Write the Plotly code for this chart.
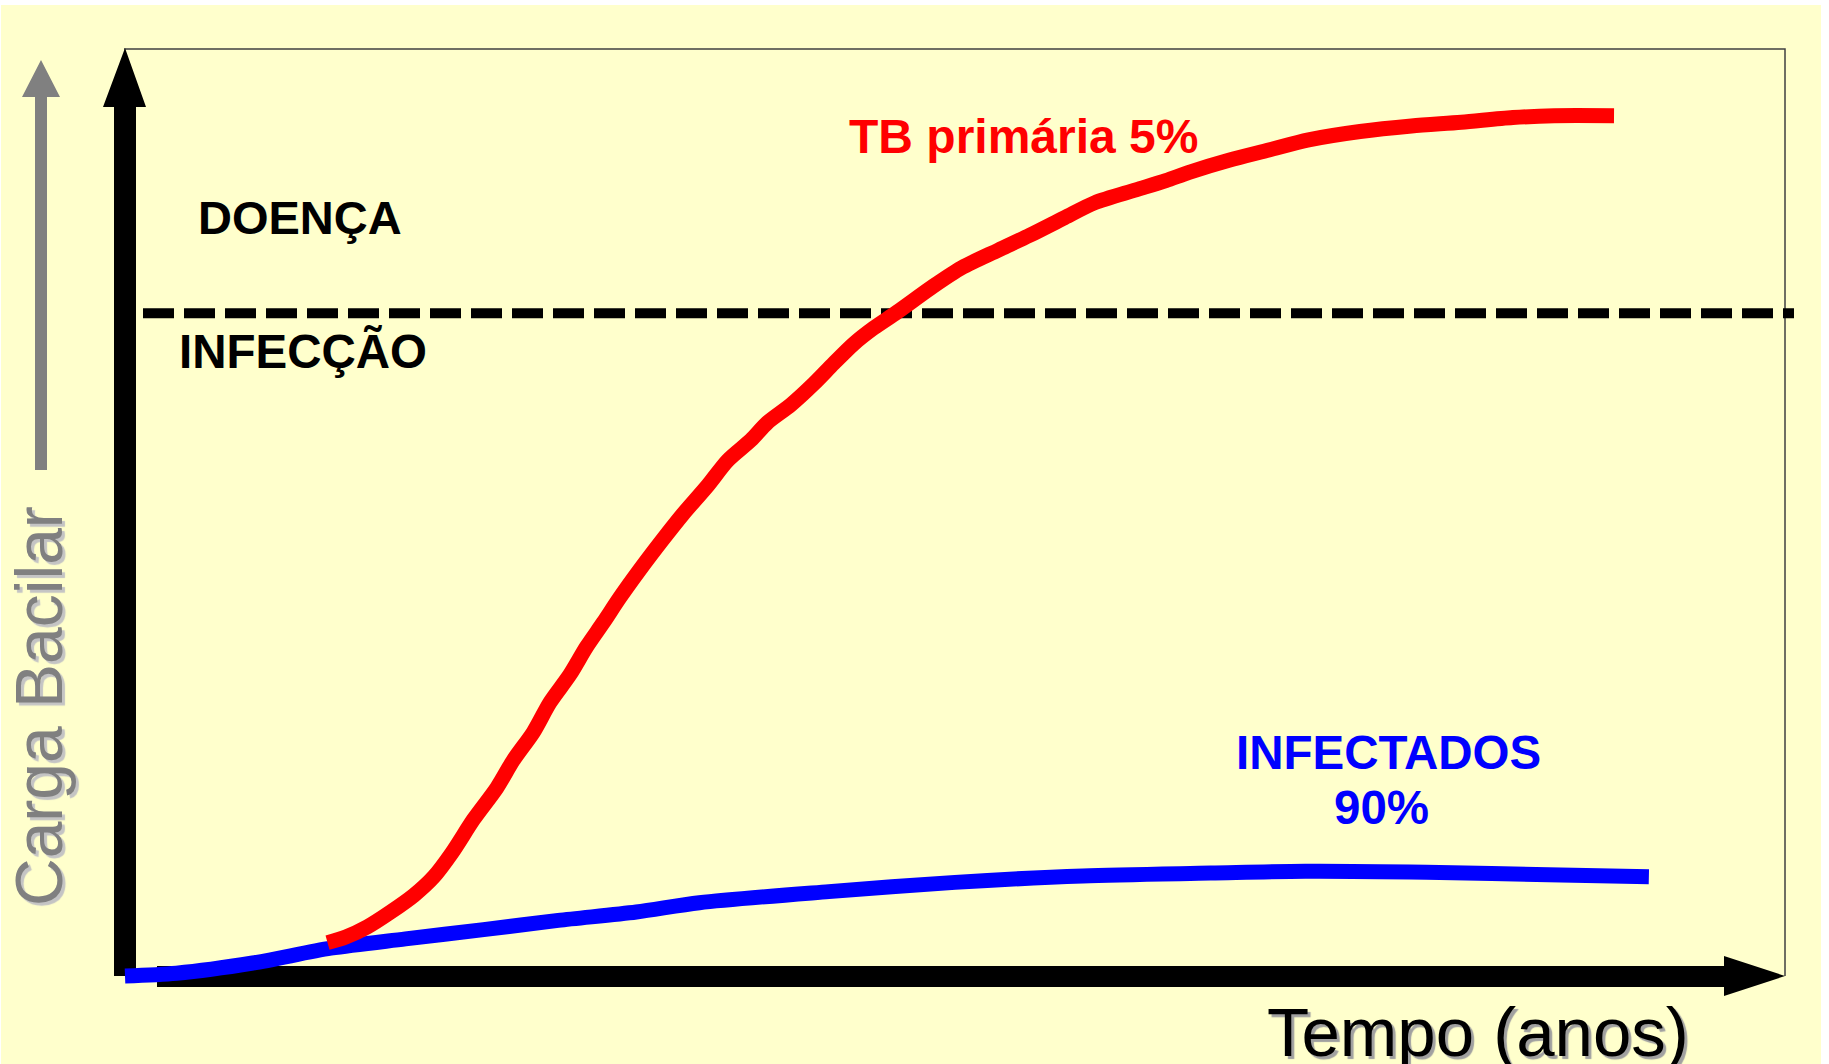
import plotly.graph_objects as go

W, H = 1829, 1064

# Frame units: the load axis sits at tempo = 0 and the frame's right edge at 100;
# the time axis sits at carga = 0 and the frame's top edge at 100.
X_ORIGIN_PX, X_PX_PER_UNIT = 125, 16.6
Y_ORIGIN_PX, Y_PX_PER_UNIT = 976, 9.27


def ux(px):
    return (px - X_ORIGIN_PX) / X_PX_PER_UNIT


def uy(py):
    return (Y_ORIGIN_PX - py) / Y_PX_PER_UNIT


# Primary TB: bacillary load over time
tempo_tb = [12.2, 13.3, 14.6, 16.0, 17.4, 18.6, 19.7, 21.0, 22.4, 23.4, 24.6, 25.6,
            26.8, 27.8, 28.8, 29.8, 31.0, 32.4, 33.6, 35.1, 36.3, 37.7, 38.7, 40.1,
            41.5, 42.7, 43.9, 45.1, 46.5, 48.6, 50.4, 52.6, 54.5, 56.6, 58.4, 60.9,
            62.7, 64.1, 66.5, 68.9, 71.3, 74.4, 77.5, 80.5, 83.6, 86.1, 89.7]
carga_tb = [3.6, 4.2, 5.3, 6.9, 8.7, 10.7, 13.3, 16.9, 20.3, 23.3, 26.3, 29.5,
            32.5, 35.5, 38.1, 40.8, 43.8, 47.1, 49.8, 52.9, 55.6, 57.8, 59.7, 61.6,
            63.9, 66.1, 68.2, 69.9, 71.6, 74.3, 76.4, 78.3, 79.9, 81.8, 83.4, 84.8,
            85.8, 86.7, 88.0, 89.1, 90.2, 91.1, 91.7, 92.1, 92.6, 92.8, 92.8]

# Infected without disease
tempo_inf = [0.0, 3.1, 7.7, 12.4, 16.9, 21.6, 26.1, 30.8, 34.6, 42.4, 50.0,
             57.7, 65.4, 71.1, 78.4, 86.5, 91.8]
carga_inf = [0.0, 0.3, 1.4, 3.0, 4.0, 5.0, 6.0, 6.9, 7.9, 9.1, 10.1,
             10.8, 11.1, 11.3, 11.2, 10.9, 10.7]

# Disease threshold (DOENÇA above / INFECÇÃO below)
limiar_doenca = 71.5

FONT = "Liberation Sans, Arial, sans-serif"


def poly(points):
    pts = [f"{ux(px):.4f},{uy(py):.4f}" for px, py in points]
    return "M " + " L ".join(pts) + " Z"


fig = go.Figure()

fig.add_trace(go.Scatter(
    x=[ux(143), ux(1794)], y=[limiar_doenca, limiar_doenca], mode="lines",
    line=dict(color="black", width=10, dash="31px,10px"), hoverinfo="skip"))

fig.add_trace(go.Scatter(
    x=tempo_inf, y=carga_inf, mode="lines",
    line=dict(color="#0000FF", width=15, shape="spline", smoothing=0.8, simplify=False),
    hoverinfo="skip"))

fig.add_trace(go.Scatter(
    x=tempo_tb, y=carga_tb, mode="lines",
    line=dict(color="#FF0000", width=15, shape="spline", smoothing=0.8, simplify=False),
    hoverinfo="skip"))

shapes = [
    # slide background
    dict(type="rect", xref="paper", yref="paper", x0=1 / W, x1=1821 / W,
         y0=0, y1=(H - 5) / H, fillcolor="#FFFFCC", line=dict(width=0), layer="below"),
    # thin frame (top and right)
    dict(type="path", xref="x", yref="y",
         path=f"M {ux(124)},{uy(49)} L {ux(1785)},{uy(49)} L {ux(1785)},{uy(976)}",
         line=dict(color="#404040", width=1.5), layer="below"),
    # grey arrow beside the load label
    dict(type="path", xref="x", yref="y",
         path=poly([(35, 470), (35, 97), (22, 97), (41, 60), (60, 97), (47, 97), (47, 470)]),
         fillcolor="#808080", line=dict(width=0), layer="below"),
    # vertical axis arrow
    dict(type="path", xref="x", yref="y",
         path=poly([(114, 976), (114, 107), (103, 107), (125, 48), (146, 107), (136, 107), (136, 976)]),
         fillcolor="black", line=dict(width=0), layer="below"),
    # horizontal axis arrow
    dict(type="path", xref="x", yref="y",
         path=poly([(157, 966), (1724, 966), (1724, 956), (1785, 976), (1724, 996), (1724, 987), (157, 987)]),
         fillcolor="black", line=dict(width=0), layer="below"),
]

annotations = [
    dict(text="DOENÇA", x=ux(300), y=uy(217),
         font=dict(family=FONT, size=47, color="black", weight="bold")),
    dict(text="INFECÇÃO", x=ux(303), y=uy(351),
         font=dict(family=FONT, size=47.5, color="black", weight="bold")),
    dict(text="TB primária 5%", x=ux(1023), y=uy(136),
         font=dict(family=FONT, size=48, color="#FF0000", weight="bold")),
    dict(text="INFECTADOS", x=ux(1388), y=uy(752),
         font=dict(family=FONT, size=47.5, color="#0000FF", weight="bold")),
    dict(text="90%", x=ux(1381), y=uy(807),
         font=dict(family=FONT, size=47.5, color="#0000FF", weight="bold")),
    dict(text="Tempo (anos)", x=ux(1478), y=uy(1032),
         font=dict(family=FONT, size=69, color="black", shadow="3px 3px 1px #A0A0A0")),
    dict(text="Carga Bacilar", x=ux(39), y=uy(706), textangle=-90,
         font=dict(family=FONT, size=66, color="#808080", shadow="-3px 3px 1px #C4C4C4")),
]
for a in annotations:
    a.update(xref="x", yref="y", showarrow=False, xanchor="center", yanchor="middle")

fig.update_layout(
    width=W, height=H,
    margin=dict(l=0, r=0, t=0, b=0),
    paper_bgcolor="white", plot_bgcolor="rgba(0,0,0,0)",
    showlegend=False,
    xaxis=dict(range=[ux(0), ux(W)], visible=False, showgrid=False, zeroline=False),
    yaxis=dict(range=[uy(H), uy(0)], visible=False, showgrid=False, zeroline=False),
    shapes=shapes, annotations=annotations,
)

fig.write_html("out.html")
